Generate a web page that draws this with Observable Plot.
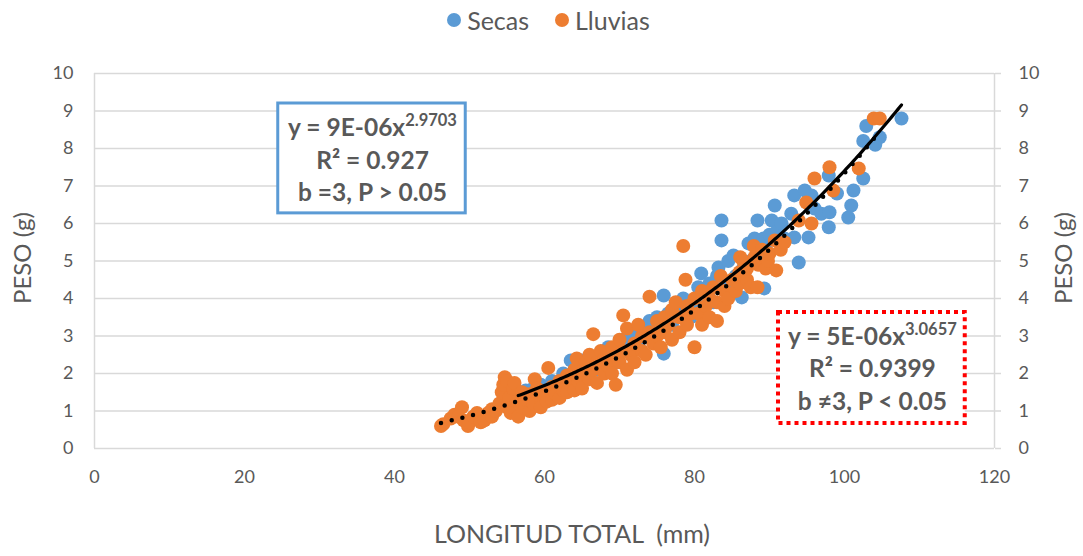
<!DOCTYPE html>
<html><head><meta charset="utf-8">
<script src="https://cdn.jsdelivr.net/npm/d3@7"></script>
<script src="https://cdn.jsdelivr.net/npm/@observablehq/plot@0.6"></script>
<style>
body{margin:0;background:#fff;font-family:Lato,"Open Sans",sans-serif;}
#legend{height:40px;display:flex;justify-content:center;align-items:center;font-size:25px;color:#595959;padding-left:14px;box-sizing:border-box;width:1083px;}
#legend .it{display:flex;align-items:center;margin:0 13px;}
#legend .sw{width:14px;height:14px;border-radius:50%;margin-right:6px;}
</style></head><body>
<div id="legend"></div>
<div id="chart"></div>
<script>
// ---- data ----
const seriesNames = ["Secas", "Lluvias"];
const seriesColors = ["#5B9BD5", "#ED7D31"];
const xTicks = [0, 20, 40, 60, 80, 100, 120];
const yTicks = [0, 1, 2, 3, 4, 5, 6, 7, 8, 9, 10];

const secas = [
 [56.5,1.4],[57,1.3],[57.5,1.55],[58,1.45],[58.5,1.6],[59,1.35],[59.5,1.7],[60,1.55],[60.5,1.4],[61,1.8],
 [61.5,1.6],[62,1.75],[62.5,2.0],[63,1.7],[63.5,2.35],[64,1.9],[64.5,2.1],[65,2.35],[65.5,2.0],[66,2.2],
 [66.5,2.4],[67,2.1],[67.5,2.5],[68,2.3],[68.5,2.7],[69,2.5],[69.5,2.3],[70,2.6],[70.5,2.9],[71,2.96],
 [71.5,2.7],[72,3.0],[72.5,2.8],[73,3.2],[73.5,3.0],[74,3.4],[74.5,3.1],[75,3.5],[75.9,2.53],[75.9,4.08],
 [76.5,3.6],[77,3.3],[77.5,3.8],[78,3.6],[78.5,4.0],[79,3.7],[79.5,3.5],[80,3.9],[80.5,4.3],[80.9,4.67],
 [81.5,4.2],[82,4.4],[82.5,3.9],[83,4.6],[83.2,4.83],[83.6,5.55],[83.6,6.08],[84,4.3],[84.5,5.0],[85.2,5.15],
 [85.5,4.6],[86.3,4.03],[86.5,4.8],[87.2,5.47],[87.5,5.0],[88,5.6],[88.4,6.08],[88.5,5.2],[89.2,5.6],[89.3,4.27],
 [89.5,5.3],[90,5.7],[90.3,6.08],[90.7,6.48],[91,5.8],[91.6,6.0],[92,5.6],[92.9,6.26],[93.3,6.75],[93.3,5.63],
 [93.9,4.96],[94.7,6.88],[95.2,5.63],[95.6,6.75],[96,6.4],[96.9,6.26],[97.9,7.28],[97.9,5.9],[98,6.3],[99,6.8],
 [100.5,6.16],[100.9,6.48],[101.2,6.88],[102.5,7.2],[102.5,8.2],[102.9,8.6],[104.1,8.1],[104.7,8.3],[107.6,8.8]
];

const lluvias = [
 [46.2,0.6],[46.5,0.65],[47.5,0.8],[48,0.9],[48.5,0.85],[49,1.1],[49.2,0.75],[49.8,0.6],[50,0.7],[50.5,0.85],
 [51,0.95],[51.5,0.7],[52,0.75],[52.5,0.95],[53,0.85],[53,1.05],[53.5,1.0],[54,1.2],[54.3,1.5],[54.5,1.7],
 [54.7,1.9],[55,1.8],[55,1.1],[55.3,1.35],[55.5,0.95],[55.8,1.6],[56,1.75],[56.3,1.25],[56.5,0.85],[57,1.5],
 [57,1.1],[57.5,1.3],[58,1.45],[58,1.0],[58.5,1.2],[58.7,1.85],[59,1.6],[59.5,1.35],[59.5,1.1],[60,1.5],
 [60.3,1.25],[60.5,2.15],[61,1.65],[61,1.3],[61.5,1.45],[62,1.8],[62,1.35],[62.5,1.55],[63,1.95],[63,1.5],
 [63.5,1.7],[64,2.1],[64,1.55],[64.3,2.4],[64.5,1.8],[65,2.0],[65,1.6],[65.5,2.3],[66,1.85],[66,2.5],
 [66.5,3.05],[66.5,2.1],[67,1.75],[67,2.3],[67.5,2.6],[68,2.0],[68,2.4],[68.5,2.2],[69,2.7],[69,2.0],
 [69.5,1.7],[69.5,2.45],[70,2.3],[70,2.9],[70.5,3.55],[70.5,2.6],[71,2.1],[71,3.2],[71.5,2.5],[72,2.8],
 [72,2.3],[72.5,3.3],[73,2.6],[73,3.0],[73.5,2.5],[74,4.05],[74,3.1],[74.5,2.8],[75,3.4],[75,3.0],
 [75.5,2.7],[76,3.5],[76,3.1],[76.5,3.3],[77,3.7],[77,2.9],[77.5,3.9],[78,3.5],[78,3.1],[78.5,5.4],
 [78.8,4.5],[79,3.8],[79,3.3],[79.5,3.6],[80,2.7],[80,4.0],[80.5,3.6],[81,3.3],[81,4.2],[81.5,3.8],
 [82,4.0],[82,3.5],[82.5,4.3],[83,3.9],[83,3.4],[83.5,4.6],[84,4.2],[84,3.8],[84.5,4.0],[85,4.5],
 [85.5,4.2],[86,4.7],[86.1,5.1],[86,4.4],[86.5,5.0],[87,4.5],[87,4.8],[87.5,4.3],[87.9,5.4],[88,5.1],
 [88.4,4.3],[88.5,4.9],[89,5.3],[89.5,4.8],[89.8,5.0],[90,5.2],[90.7,5.55],[90.9,4.75],[91.5,5.3],[92,5.5],
 [93.9,6.08],[94.9,6.56],[95.6,6.0],[96,7.2],[98,7.5],[98.5,6.88],[101.9,7.47],[103.9,8.8],[104.7,8.8]
];

const boxTexts = [
 {lines:[["y = 9E-06x","2.9703"],["R² = 0.927"],["b =3, P > 0.05"]]},
 {lines:[["y = 5E-06x","3.0657"],["R² = 0.9399"],["b ≠3, P < 0.05"]]}
];

// ---- power trend (least squares in log space, as a spreadsheet trendline) ----
function powerFit(pts){
  const n = pts.length;
  let sx=0, sy=0, sxx=0, sxy=0;
  for (const [x,y] of pts){ const lx=Math.log(x), ly=Math.log(y); sx+=lx; sy+=ly; sxx+=lx*lx; sxy+=lx*ly; }
  const b = (n*sxy - sx*sy)/(n*sxx - sx*sx);
  const a = Math.exp((sy - b*sx)/n);
  const x0 = d3.min(pts, d=>d[0]), x1 = d3.max(pts, d=>d[0]);
  const steps = 200;
  return d3.range(steps+1).map(i => { const x = x0 + (x1-x0)*i/steps; return [x, a*Math.pow(x,b)]; });
}
const secasTrend = powerFit(secas);
const lluviasTrend = powerFit(lluvias);

// ---- legend ----
const leg = document.getElementById("legend");
seriesNames.forEach((n,i)=>{
  const it = document.createElement("div"); it.className="it";
  it.innerHTML = `<span class="sw" style="background:${seriesColors[i]}"></span><span>${n}</span>`;
  leg.appendChild(it);
});

// ---- plot ----
const grey = "#D9D9D9";
const plot = Plot.plot({
  width: 1083, height: 516,
  marginLeft: 94, marginRight: 89, marginTop: 33, marginBottom: 108,
  x: {domain: [0, 120]},
  y: {domain: [0, 10]},
  style: {fontFamily: "Lato, 'Open Sans', sans-serif", fontSize: "18px", color: "#595959", background: "white"},
  marks: [
    Plot.gridY(yTicks.slice(1), {stroke: grey, strokeOpacity: 1, strokeWidth: 1.5}),
    Plot.ruleX([0, 120], {stroke: grey, strokeWidth: 1.5}),
    Plot.ruleY([0], {stroke: grey, strokeWidth: 1.5}),
    Plot.axisY(yTicks, {anchor: "left", tickSize: 0, tickPadding: 21, label: null}),
    Plot.axisY(yTicks, {anchor: "right", tickSize: 6, tickPadding: 18, label: null, stroke: grey, strokeWidth: 1.5}),
    Plot.axisX(xTicks, {anchor: "bottom", tickSize: 0, tickPadding: 22, label: null}),
    Plot.dot(secas, {x: d=>d[0], y: d=>d[1], r: 7, fill: seriesColors[0]}),
    Plot.dot(lluvias, {x: d=>d[0], y: d=>d[1], r: 7, fill: seriesColors[1]}),
    Plot.line(secasTrend, {x: d=>d[0], y: d=>d[1], stroke: "black", strokeWidth: 3.2}),
    Plot.line(lluviasTrend, {x: d=>d[0], y: d=>d[1], stroke: "black", strokeWidth: 4.5, strokeDasharray: "0 11", strokeLinecap: "round"})
  ]
});
document.getElementById("chart").appendChild(plot);

// ---- annotations and axis titles ----
const svg = d3.select(plot);
const X = plot.scale("x"), Y = plot.scale("y");
const boxes = [
  {x1: 24.5, x2: 49.5, y1: 9.2, y2: 6.27, stroke: "#5B9BD5", dash: null, w: 3},
  {x1: 91.2, x2: 116.1, y1: 3.63, y2: 0.67, stroke: "#FF0000", dash: "4 4", w: 4}
];
boxes.forEach((b,i)=>{
  const px1 = X.apply(b.x1), px2 = X.apply(b.x2), py1 = Y.apply(b.y1), py2 = Y.apply(b.y2);
  svg.append("rect").attr("x", px1).attr("y", py1).attr("width", px2-px1).attr("height", py2-py1)
    .attr("fill", "white").attr("stroke", b.stroke).attr("stroke-width", b.w)
    .attr("stroke-dasharray", b.dash);
  const cx = (px1+px2)/2 + 1;
  const cy0 = py1 + 24;
  boxTexts[i].lines.forEach((ln, j)=>{
    const t = svg.append("text").attr("x", cx).attr("y", cy0 + j*32.5 + 9)
      .attr("text-anchor", "middle").attr("fill", "#595959").attr("font-weight", "bold")
      .attr("font-size", 24.5).attr("font-family", "Lato, sans-serif");
    t.append("tspan").text(ln[0]);
    if (ln[1]) t.append("tspan").attr("font-size", 16.5).attr("dy", -10).text(ln[1]);
  });
});
const ttl = (x, y, rot, s) => svg.append("text").attr("transform", `translate(${x},${y}) rotate(${rot})`)
  .attr("text-anchor", "middle").attr("dominant-baseline", "middle").attr("fill", "#595959")
  .attr("font-size", 25).attr("font-family", "Lato, sans-serif").text(s);
ttl(572, 497, 0, "LONGITUD TOTAL  (mm)").style("white-space", "pre");
ttl(25, 218, -90, "PESO (g)").attr("font-size", 24);
ttl(1066, 218, -90, "PESO (g)").attr("font-size", 24);
</script>
</body></html>
